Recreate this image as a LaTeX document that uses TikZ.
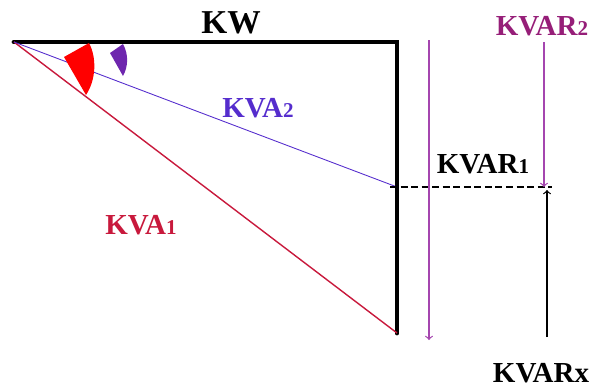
\documentclass[tikz,border=0pt]{standalone}
\usepackage{fontspec}
\setmainfont{Liberation Serif}
\usepackage{tikz}
\usepackage{xcolor}
\definecolor{kvaRed}{RGB}{200,25,60}
\definecolor{kvaBlue}{RGB}{85,45,205}
\definecolor{varPurple}{RGB}{150,30,120}
\definecolor{arrPurple}{RGB}{165,70,175}
\newcommand{\lowdigit}[1]{{\fontsize{12}{12}\selectfont #1}}

\begin{document}
\begin{tikzpicture}[x=0.02cm,y=-0.02cm,
    lbl/.style={font=\bfseries\fontsize{16.5}{17}\selectfont,inner sep=0pt},
    side/.style={line width=2.8pt}]
    \useasboundingbox (0,0) rectangle (591,389);
    \coordinate (O) at (14,42);
    \coordinate (TR) at (397,42);
    \coordinate (BR) at (397,333);
    \coordinate (M) at (397,187);
    \coordinate (Dstart) at (390,187);
    \coordinate (Dend) at (552,187);
    \draw [side,line cap=round] (O)--(TR)--(BR);
    \draw [kvaRed,line width=0.8pt] (O)--(BR);
    \draw [kvaBlue,line width=0.5pt] (O)--(M);
    \draw [dash pattern=on 4pt off 2pt,line width=0.6pt] (Dstart)--(Dend);
    \fill [red] (64,57)--(89,43) .. controls (97,58) and (96,80) .. (86,95)--cycle;
    \fill [kvaBlue!85!red] (110,53)--(123,44) .. controls (129,55) and (128,67) .. (123,76)--cycle;
    \node[lbl,font=\bfseries\fontsize{19}{19}\selectfont] (KW) at (231,23) {KW};
    \node[lbl,kvaBlue] (KVA2) at (258,108) {KVA\lowdigit{2}};
    \node[lbl,kvaRed] (KVA1) at (141,225) {KVA\lowdigit{1}};
    \node[lbl] (KVAR1) at (483,164) {KVAR\lowdigit{1}};
    \node[lbl,varPurple] (KVAR2) at (542,26) {KVAR\lowdigit{2}};
    \node[lbl] (KVARx) at (541,373) {KVARx};
    \coordinate (Ptop) at (429,40);
    \coordinate (Pbot) at (429,340);
    \coordinate (Qtop) at (544,42);
    \coordinate (Qbot) at (544,187);
    \coordinate (Rbot) at (547,337);
    \coordinate (Rtop) at (547,190);
    \draw [->,arrPurple,line width=0.7pt] (Ptop)--(Pbot);
    \draw [->,arrPurple,line width=0.7pt] (Qtop)--(Qbot);
    \draw [->,line width=0.7pt] (Rbot)--(Rtop);
\end{tikzpicture}
\end{document}
